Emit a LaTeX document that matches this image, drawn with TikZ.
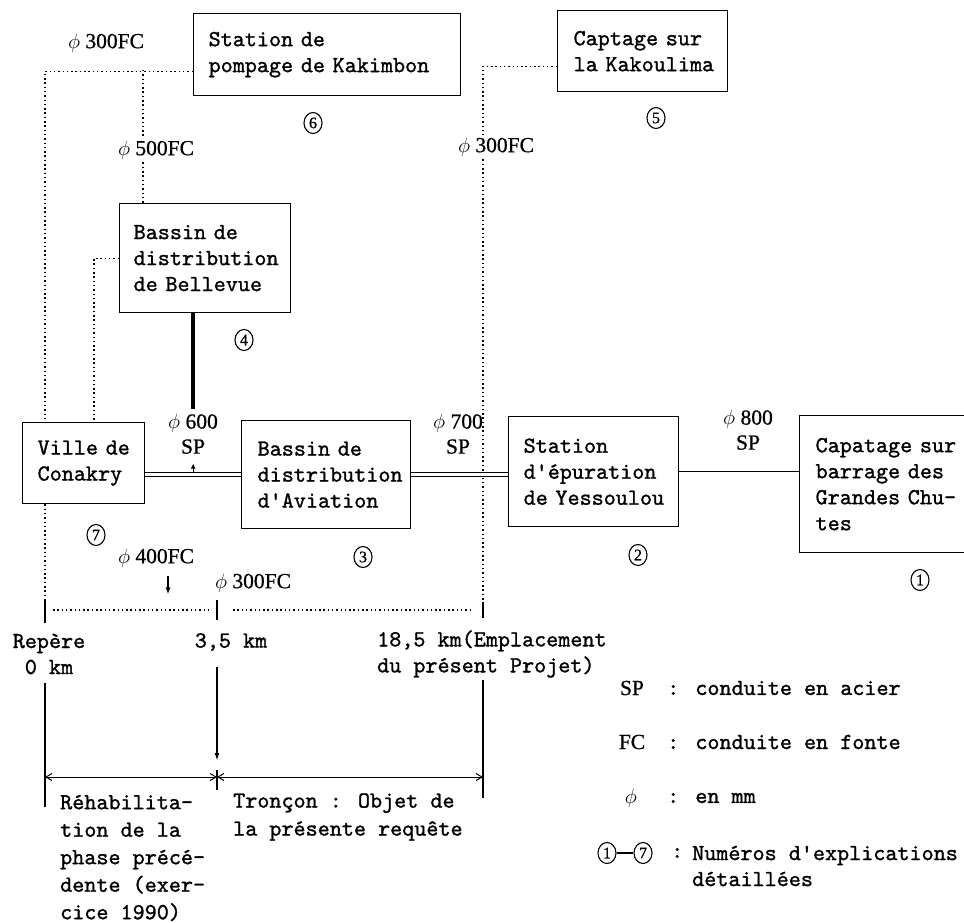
\documentclass[tikz,border=0pt]{standalone}
\usepackage{fontspec}
\usetikzlibrary{arrows.meta,calc,shapes.geometric}
\newfontfamily\heavymono{lmmono10-regular.otf}[FakeBold=1.2]
\newfontfamily\heavyserif{Liberation Serif}[FakeBold=0.8]
\newcommand\monotxt{\fontsize{23}{26}\selectfont\heavymono}
\newcommand\seriftxt{\fontsize{21.5}{25}\selectfont\heavyserif}
\hyphenpenalty=10000
\exhyphenpenalty=10000
\begin{document}
\begin{tikzpicture}[x=1pt,y=-1pt,
  box/.style={draw, line width=1.3pt, fill=white, align=left, anchor=north west,
    inner ysep=0pt, font=\monotxt},
  mono/.style={font=\monotxt, inner sep=0pt},
  lab/.style={font=\seriftxt, inner sep=3pt},
  num/.style={ellipse, draw, line width=1.1pt, inner sep=0pt, minimum width=18pt,
    minimum height=21pt, font=\fontsize{16}{16}\selectfont\heavyserif},
  fcpipe/.style={line width=1.5pt, dash pattern=on 1.5pt off 2.8pt},
  sppipe/.style={double, double distance=2.6pt, line width=1pt},
  tick/.style={line width=1.7pt},
  dim/.style={line width=1pt, {Straight Barb[length=6pt,width=7pt]}-{Straight Barb[length=6pt,width=7pt]}}
]
\fill[white] (0,0) rectangle (964,923);
\useasboundingbox (0,0) rectangle (964,923);

% --- installations ---
\node[box, minimum height=82pt, inner xsep=15pt, text width=237pt] (kak) at (193,13)
  {Station~de\\pompage~de~Kakimbon};
\node[box, minimum height=81pt, inner xsep=16pt, text width=138pt] (kao) at (557,10)
  {Captage~sur\\la~Kakoulima};
\node[box, minimum height=109pt, inner xsep=14pt, text width=143pt] (bel) at (119,203)
  {Bassin~de\\distribution\\de~Bellevue};
\node[box, minimum height=81pt, inner xsep=15pt, text width=92pt] (con) at (22,422)
  {Ville~de\\Conakry};
\node[box, minimum height=108pt, inner xsep=16pt, text width=137pt] (avi) at (241,420)
  {Bassin~de\\distribution\\d'Aviation};
\node[box, minimum height=110pt, inner xsep=15pt, text width=140pt] (yes) at (508,416)
  {Station\\d'épuration\\de~Yessoulou};
\node[box, minimum height=137pt, inner xsep=16pt, text width=148pt] (chu) at (799,415)
  {Capatage~sur\\barrage~des\\Grandes~Chu-\\tes};

% --- explanation numbers ---
\node[num] (c6) at (313,123) {6};
\node[num] (c5) at (656,118) {5};
\node[num] (c4) at (244,340) {4};
\node[num] (c7) at (96,535) {7};
\node[num] (c3) at (363,557) {3};
\node[num] (c2) at (638,555) {2};
\node[num] (c1) at (920,580) {1};

% --- pipe labels ---
\node[lab] (l300l) at (106,43) {$\phi$ 300FC};
\node[lab] (l500) at (156,150) {$\phi$ 500FC};
\node[lab] (l300r) at (496,147) {$\phi$ 300FC};
\node[lab, align=center] (l600) at (193,434) {$\phi$ 600\\SP};
\node[lab, align=center] (l700) at (458,434) {$\phi$ 700\\SP};
\node[lab, align=center] (l800) at (748,430) {$\phi$ 800\\SP};
\node[lab] (l400) at (156,558) {$\phi$ 400FC};
\node[lab] (l300m) at (253,583) {$\phi$ 300FC};

% --- distance marks ---
\coordinate (r0) at (45,600);
\coordinate (r35) at (217,600);
\coordinate (r18) at (483,602);
\coordinate (j6) at (143,70);

% --- cast iron (FC) pipes, dotted ---
\draw[fcpipe] ([yshift=25pt]kak.south west) -| ([xshift=23pt]con.north west);
\draw[fcpipe] ([xshift=23pt]con.south west) -- (r0);
\draw[fcpipe] (j6) -- (j6 |- l500.north);
\draw[fcpipe] (j6 |- l500.south) -- ([xshift=24pt]bel.north west);
\draw[fcpipe] ([yshift=55pt]bel.south west) -| ([xshift=72pt]con.north west);
\draw[fcpipe] ([yshift=26pt]kao.south west) -| (r18 |- l300r.north);
\draw[fcpipe] (r18 |- l300r.south) -- (r18);

% --- steel (SP) pipes ---
\draw[sppipe] (avi.west -| con.east) -- (avi.west);
\draw[sppipe] (avi.east) -- (avi.east -| yes.west);
\draw[line width=1pt] (yes.east) -- (yes.east -| chu.west);
\draw[line width=3.8pt] ([xshift=74pt]bel.south west) -- ++(0,96);
\coordinate (m600) at ($(avi.west -| con.east)!0.5!(avi.west)$);
\draw[line width=0.9pt, -{Latex[length=5pt,width=5pt]}] ([yshift=2pt]m600) -- ++(0,-9);
\draw[line width=1.3pt, -{Latex[length=7pt,width=5pt]}] ([xshift=12pt,yshift=-6pt]l400.south) -- ++(0,18);

% --- kilometre scale ---
\draw[tick] (r0) -- ++(0,23);
\draw[tick] (r35) -- ++(0,20);
\draw[tick] (r18) -- ++(0,16);
\draw[fcpipe] ($(r0)+(8,10)$) -- ($(r35)+(-9,10)$);
\draw[fcpipe] ($(r35)+(16,10)$) -- ($(r18)+(-10,8)$);
\draw[tick] ($(r0)+(0,83)$) -- ($(r0)+(0,207)$);
\draw[tick, -{Latex[length=8pt,width=5pt]}] ($(r35)+(0,67)$) -- ($(r35)+(0,161)$);
\draw[tick] ($(r35)+(0,170)$) -- ($(r35)+(0,190)$);
\draw[tick] ($(r18)+(0,78)$) -- ($(r18)+(0,196)$);
\draw[dim] ($(r0)+(0,177)$) -- ($(r35)+(0,177)$);
\draw[dim] ($(r35)+(0,177)$) -- ($(r18)+(0,175)$);

\node[mono, align=center] (rep) at (49,654) {Repère\\0 km};
\node[mono] (km35) at (231,642) {3,5 km};
\node[mono, align=left, anchor=west] (km18) at (377,654) {18,5 km(Emplacement\\du présent Projet)};
\node[mono, align=left, anchor=west, font=\fontsize{23}{27.5}\selectfont\heavymono] (reh) at (60,858)
  {Réhabilita-\\tion de la\\phase précé-\\dente (exer-\\cice 1990)};
\node[mono, align=left, anchor=west, font=\fontsize{23}{28}\selectfont\heavymono] (tro) at (233,817)
  {Tronçon : Objet de\\la présente requête};

% --- legend ---
\node[lab] (kSP) at (632,688) {SP};
\node[mono, anchor=west] (dSP) at (667,688) {: conduite en acier};
\node[lab] (kFC) at (632,742) {FC};
\node[mono, anchor=west] (dFC) at (667,742) {: conduite en fonte};
\node[lab] (kphi) at (631,798) {$\phi$};
\node[mono, anchor=west] (dphi) at (667,798) {: en mm};
\node[num] (k1) at (607,853) {1};
\node[num] (k7) at (643,853) {7};
\draw[line width=1.2pt] (k1.east) -- (k7.west);
\node[mono, anchor=west] (dcol) at (671,853) {:};
\node[mono, align=left, anchor=west] (dnum) at (692,866) {Numéros d'explications\\détaillées};
\end{tikzpicture}
\end{document}
